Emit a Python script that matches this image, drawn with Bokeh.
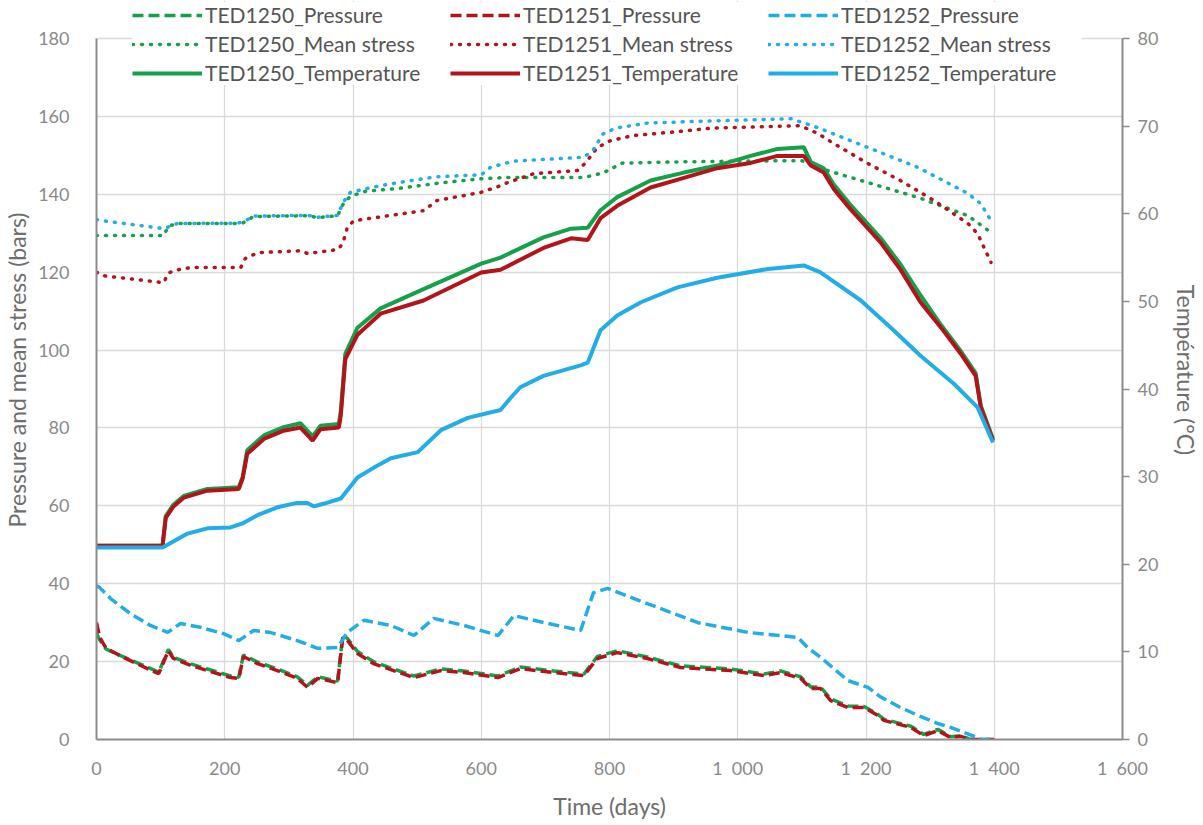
from bokeh.plotting import figure
from bokeh.models import Range1d, LinearAxis, FixedTicker, Legend, LegendItem
from bokeh.embed import file_html
from bokeh.resources import INLINE

# ---------------- data ----------------
# Pressure (bars)
p_days_a = [0, 5, 15, 42, 69, 97, 112, 120, 147, 173, 209, 222, 229, 251, 282, 313, 329, 345,
            376, 384, 391, 407, 432, 460, 495, 537, 573, 626, 661, 713, 760, 781, 812, 859, 911,
            989, 1041, 1067, 1098, 1114, 1129, 1145, 1172, 1197, 1218, 1228, 1270, 1290, 1312,
            1332, 1348, 1363, 1400]
ted1250_pressure = [27.2, 25.6, 23.2, 21.2, 19.3, 17.3, 23.1, 21.1, 19.4, 18.1, 16.3, 16.0, 21.7,
                    19.9, 18.1, 16.1, 13.9, 16.1, 15.0, 26.6, 26.0, 22.6, 20.0, 18.3, 16.3, 18.1,
                    17.6, 16.3, 18.6, 17.6, 16.8, 21.3, 22.8, 21.2, 18.9, 18.1, 16.8, 17.6, 16.1,
                    13.5, 13.5, 10.4, 8.6, 8.5, 6.5, 5.2, 3.4, 1.3, 2.6, 0.7, 1.0, 0.0, 0.0]
ted1251_pressure = [30.0, 26.2, 23.4, 21.1, 19.0, 16.9, 22.8, 20.8, 19.0, 17.7, 15.9, 15.7, 21.3,
                    19.5, 17.7, 15.7, 13.4, 15.7, 14.6, 26.2, 25.5, 22.1, 19.5, 17.9, 15.9, 17.7,
                    17.2, 15.9, 18.2, 17.2, 16.4, 20.8, 22.3, 20.8, 18.5, 17.7, 16.4, 17.2, 15.7,
                    13.1, 13.1, 10.0, 8.2, 8.2, 6.2, 4.9, 3.1, 1.0, 2.3, 0.5, 0.8, 0.0, 0.0]
p_days_b = [0, 5, 22, 53, 84, 111, 131, 162, 198, 222, 245, 271, 313, 345, 376, 391, 417, 459,
            495, 526, 573, 626, 651, 704, 755, 775, 797, 859, 938, 1016, 1094, 1109, 1129, 1172,
            1203, 1222, 1254, 1281, 1312, 1332, 1353, 1374, 1379, 1400]
ted1252_pressure = [39.5, 39.0, 36.2, 32.3, 29.3, 27.5, 29.8, 28.8, 27.2, 25.4, 28.0, 27.5, 25.4,
                    23.4, 23.6, 27.5, 30.6, 29.3, 26.7, 31.1, 29.3, 26.7, 31.8, 29.8, 28.0, 37.7,
                    38.8, 34.9, 30.0, 27.5, 26.2, 23.6, 21.1, 15.1, 13.4, 11.0, 8.2, 6.2, 4.1, 3.1,
                    1.8, 0.5, 0.0, 0.0]

# Mean stress (bars)
ms_days_1250 = [0, 105, 112, 126, 220, 229, 245, 329, 345, 376, 385, 396, 420, 470, 540, 600,
                640, 760, 790, 820, 900, 1000, 1060, 1100, 1140, 1203, 1281, 1359, 1395]
ted1250_mean = [129.4, 129.4, 131.8, 132.5, 132.5, 132.7, 134.3, 134.5, 134.0, 134.5, 137.6,
                139.5, 140.8, 141.5, 143.0, 144.0, 144.3, 144.3, 145.5, 148.0, 148.3, 148.5,
                148.6, 148.6, 146.1, 143.0, 139.2, 134.5, 130.2]
ms_days_1251 = [0, 10, 105, 111, 120, 147, 225, 232, 251, 318, 329, 376, 384, 391, 401, 510,
                531, 600, 630, 641, 682, 750, 763, 781, 802, 838, 900, 960, 1098, 1125, 1150,
                1203, 1254, 1306, 1359, 1374, 1395]
ted1251_mean = [120.0, 119.1, 117.3, 119.6, 120.4, 121.2, 121.2, 123.5, 125.0, 125.5, 124.8,
                125.8, 127.3, 131.4, 133.2, 135.8, 138.4, 140.5, 142.2, 143.0, 145.3, 146.1,
                148.1, 152.0, 153.8, 155.1, 156.0, 157.0, 157.6, 155.6, 153.0, 147.9, 143.5,
                138.4, 132.5, 129.9, 122.5]
ms_days_1252 = [0, 10, 105, 112, 126, 220, 229, 245, 329, 345, 376, 385, 396, 430, 470, 530,
                600, 615, 650, 760, 775, 790, 810, 860, 950, 1083, 1125, 1203, 1281, 1359, 1379,
                1395]
ted1252_mean = [133.5, 133.2, 131.2, 131.6, 132.5, 132.6, 132.9, 134.4, 134.6, 134.1, 134.6,
                138.0, 140.5, 141.8, 143.0, 144.5, 145.0, 147.0, 148.5, 149.5, 151.5, 155.5,
                157.0, 158.3, 158.8, 159.4, 157.1, 152.0, 146.9, 140.2, 137.6, 133.2]

# Temperature (deg C)
t_days_a = [0, 103, 108, 120, 136, 173, 222, 228, 235, 261, 290, 318, 337, 349, 378, 381, 388,
            407, 443, 510, 600, 630, 697, 740, 766, 786, 812, 864, 916, 968, 1020, 1062, 1103,
            1114, 1134, 1150, 1176, 1197, 1223, 1254, 1285, 1317, 1348, 1371, 1379, 1398]
ted1250_temp = [22.1, 22.1, 25.5, 26.8, 27.8, 28.6, 28.8, 30.0, 33.0, 34.7, 35.6, 36.1, 34.6,
                35.8, 36.0, 37.5, 44.0, 47.0, 49.2, 51.4, 54.3, 55.0, 57.3, 58.3, 58.4, 60.4,
                61.9, 63.8, 64.7, 65.5, 66.6, 67.4, 67.6, 65.9, 65.2, 63.3, 61.0, 59.3, 57.2,
                54.2, 50.7, 47.3, 44.3, 41.8, 38.1, 34.3]
ted1251_temp = [22.1, 22.1, 25.3, 26.6, 27.6, 28.4, 28.6, 29.8, 32.6, 34.3, 35.2, 35.6, 34.1,
                35.4, 35.6, 37.0, 43.4, 46.2, 48.6, 50.1, 53.3, 53.6, 56.1, 57.2, 57.0, 59.5,
                60.9, 63.0, 64.1, 65.2, 65.8, 66.6, 66.6, 65.5, 64.7, 62.8, 60.5, 58.8, 56.7,
                53.6, 49.9, 47.0, 44.0, 41.5, 37.9, 34.1]
t_days_b = [0, 103, 110, 142, 173, 209, 229, 251, 282, 313, 329, 339, 354, 381, 407, 432, 459,
            501, 537, 579, 630, 646, 661, 697, 755, 766, 786, 812, 849, 906, 968, 1047, 1103,
            1129, 1192, 1243, 1285, 1337, 1374, 1398]
ted1252_temp = [21.9, 21.9, 22.2, 23.5, 24.1, 24.2, 24.7, 25.6, 26.5, 27.0, 27.0, 26.6, 26.9,
                27.5, 29.9, 31.0, 32.1, 32.8, 35.3, 36.7, 37.6, 39.0, 40.2, 41.5, 42.7, 43.0,
                46.7, 48.4, 49.9, 51.6, 52.7, 53.7, 54.1, 53.3, 50.1, 46.7, 43.8, 40.6, 37.9,
                33.9]

x_ticks = [0, 200, 400, 600, 800, 1000, 1200, 1400, 1600]
x_tick_labels = ["0", "200", "400", "600", "800", "1\u2002000", "1\u2002200", "1\u2002400", "1\u2002600"]
y_ticks = [0, 20, 40, 60, 80, 100, 120, 140, 160, 180]
t_ticks = [0, 10, 20, 30, 40, 50, 60, 70, 80]

GREEN = "#17a04a"
RED = "#b3141c"
BLUE = "#22ade6"
FONT = "Lato"

# frame spans the full top so that the legend (above 180) is not clipped;
# the axes are bounded to 0-180 / 0-80 like the original
Y_TOP = 189.76
T_TOP = 80 * Y_TOP / 180

p = figure(width=1203, height=825, x_range=Range1d(0, 1600), y_range=Range1d(0, Y_TOP),
           output_backend="svg", toolbar_location=None,
           min_border_left=96, min_border_right=81, min_border_top=0, min_border_bottom=86)
p.extra_y_ranges = {"temp": Range1d(0, T_TOP)}
p.outline_line_color = None
p.background_fill_color = "white"

# grids
p.xgrid.ticker = FixedTicker(ticks=x_ticks)
p.ygrid.ticker = FixedTicker(ticks=y_ticks)
p.grid.grid_line_color = "#d9d9d9"
p.grid.grid_line_width = 1.3
p.xgrid.bounds = (0, 1600)
p.ygrid.bounds = (0, 180)

# axes
lab_col = "#8a8a8a"
title_col = "#6e6e6e"
ax_col = "#8c8c8c"
xa = p.xaxis[0]
xa.ticker = FixedTicker(ticks=x_ticks)
xa.major_label_overrides = {t: l for t, l in zip(x_ticks, x_tick_labels)}
xa.axis_label = "Time (days)"
ya = p.yaxis[0]
ya.ticker = FixedTicker(ticks=y_ticks)
ya.bounds = (0, 180)
ya.axis_label = "Pressure and mean stress (bars)"
ra = LinearAxis(y_range_name="temp", ticker=FixedTicker(ticks=t_ticks), bounds=(0, 80),
                axis_label="Température (°C)")
p.add_layout(ra, "right")

for ax in (xa, ya, ra):
    ax.axis_line_color = ax_col
    ax.axis_line_width = 2
    ax.minor_tick_line_color = None
    ax.major_label_text_font = FONT
    ax.major_label_text_font_size = "18px"
    ax.major_label_text_color = lab_col
    ax.axis_label_text_font = FONT
    ax.axis_label_text_font_size = "23px"
    ax.axis_label_text_font_style = "normal"
    ax.axis_label_text_color = title_col

xa.major_tick_line_color = None
ya.major_tick_line_color = None
xa.major_label_standoff = 11
ya.major_label_standoff = 21
xa.axis_label_standoff = 10
ya.axis_label_standoff = 4
ra.major_tick_line_color = ax_col
ra.major_tick_line_width = 1.5
ra.major_tick_out = 7
ra.major_tick_in = 0
ra.major_label_standoff = 8
ra.axis_label_standoff = 11

DASH = "11 5"
DOT = "1 8"
W = 3.5

r_p0 = p.line(p_days_a, ted1250_pressure, color=GREEN, line_width=W, line_dash=DASH)
r_p1 = p.line(p_days_a, ted1251_pressure, color=RED, line_width=W, line_dash=DASH)
r_p2 = p.line(p_days_b, ted1252_pressure, color=BLUE, line_width=W, line_dash=DASH)
r_m0 = p.line(ms_days_1250, ted1250_mean, color=GREEN, line_width=W, line_dash=DOT, line_cap="round")
r_m1 = p.line(ms_days_1251, ted1251_mean, color=RED, line_width=W, line_dash=DOT, line_cap="round")
r_m2 = p.line(ms_days_1252, ted1252_mean, color=BLUE, line_width=W, line_dash=DOT, line_cap="round")
r_t0 = p.line(t_days_a, ted1250_temp, color=GREEN, line_width=4, y_range_name="temp")
r_t1 = p.line(t_days_a, ted1251_temp, color=RED, line_width=4, y_range_name="temp")
r_t2 = p.line(t_days_b, ted1252_temp, color=BLUE, line_width=4, y_range_name="temp")

# legend: items listed column by column (Bokeh fills columns first)
items = [
    LegendItem(label="TED1250_Pressure", renderers=[r_p0]),
    LegendItem(label="TED1250_Mean stress", renderers=[r_m0]),
    LegendItem(label="TED1250_Temperature", renderers=[r_t0]),
    LegendItem(label="TED1251_Pressure", renderers=[r_p1]),
    LegendItem(label="TED1251_Mean stress", renderers=[r_m1]),
    LegendItem(label="TED1251_Temperature", renderers=[r_t1]),
    LegendItem(label="TED1252_Pressure", renderers=[r_p2]),
    LegendItem(label="TED1252_Mean stress", renderers=[r_m2]),
    LegendItem(label="TED1252_Temperature", renderers=[r_t2]),
]
leg = Legend(items=items, ncols=3, location=(36, 654),
             glyph_width=70, glyph_height=22, label_height=22, label_width=241,
             label_standoff=3, spacing=4, padding=3, margin=0,
             label_text_font=FONT, label_text_font_size="21px", label_text_color="#555555",
             background_fill_color="white", background_fill_alpha=1.0,
             border_line_color=None)
p.add_layout(leg, "center")

open("out.html", "w").write(file_html(p, INLINE))
